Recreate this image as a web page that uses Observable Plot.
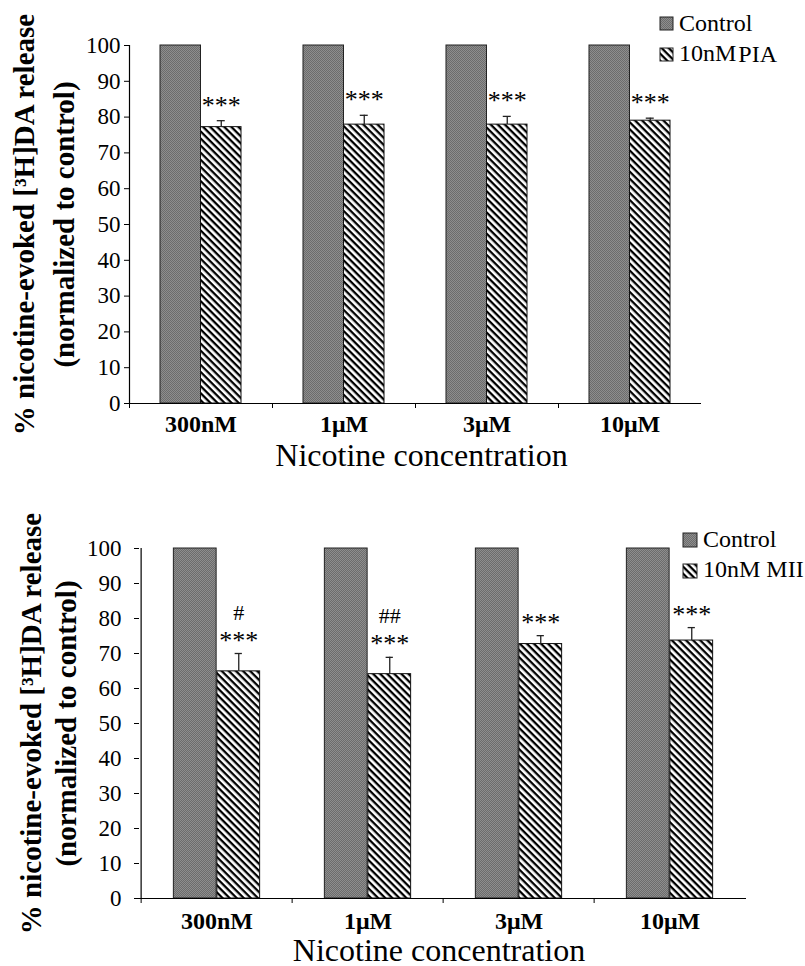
<!DOCTYPE html>
<html>
<head>
<meta charset="utf-8">
<script src="https://cdn.jsdelivr.net/npm/d3@7"></script>
<script src="https://cdn.jsdelivr.net/npm/@observablehq/plot@0.6"></script>
<style>
  html, body { margin: 0; padding: 0; background: #fff; }
  #chart { width: 805px; }
  #chart svg { display: block; }
</style>
</head>
<body>
<svg width="0" height="0" style="position:absolute">
  <defs>
    <pattern id="hatchFill" patternUnits="userSpaceOnUse" width="5" height="5" patternTransform="rotate(45)">
      <rect width="5" height="5" fill="#ffffff"></rect>
      <rect width="5" height="2.3" fill="#000000"></rect>
    </pattern>
    <pattern id="grayFill" patternUnits="userSpaceOnUse" width="2" height="2">
      <rect width="2" height="2" fill="#8e8e8e"></rect>
      <rect width="1" height="1" fill="#6c6c6c"></rect>
      <rect x="1" y="1" width="1" height="1" fill="#6c6c6c"></rect>
    </pattern>
  </defs>
</svg>
<div id="chart"></div>
<script>
// ---------- data ----------
const concentrations = ["300nM", "1μM", "3μM", "10μM"];
const yTicks = [0, 10, 20, 30, 40, 50, 60, 70, 80, 90, 100];

const controlPIA = [100, 100, 100, 100];
const valuesPIA = [77.2, 77.9, 77.9, 79.0];
const errorsPIA = [1.8, 2.6, 2.3, 0.7];
const starsPIA = ["***", "***", "***", "***"];
const hashPIA = ["", "", "", ""];

const controlMII = [100, 100, 100, 100];
const valuesMII = [64.9, 64.1, 72.7, 73.7];
const errorsMII = [5.1, 4.8, 2.4, 3.7];
const starsMII = ["***", "***", "***", "***"];
const hashMII = ["#", "##", "", ""];

const yTitle1 = "% nicotine-evoked [³H]DA release";
const yTitle2 = "(normalized to control)";
const xTitle = "Nicotine concentration";
const legendControl = "Control";

const serif = "'Liberation Serif','Times New Roman',Times,serif";

function drawPanel(cfg) {
  const W = 805, H = 483;
  const step = (W - cfg.marginLeft - cfg.marginRight) / concentrations.length;
  const bw = step / (2 + 2 * cfg.pad);
  const outer = cfg.pad * bw;
  const rows = concentrations.map((c, i) => ({
    conc: c,
    control: cfg.control[i],
    value: cfg.values[i],
    hi: cfg.values[i] + cfg.errors[i],
    sig: cfg.stars[i],
    hash: cfg.hash[i]
  }));

  const svg = Plot.plot({
    width: W,
    height: H,
    marginTop: cfg.marginTop,
    marginBottom: cfg.marginBottom,
    marginLeft: cfg.marginLeft,
    marginRight: cfg.marginRight,
    x: {type: "band", domain: concentrations, padding: 0, label: null},
    y: {domain: [0, 100], label: null},
    style: {fontFamily: serif, color: "#000", background: "#fff", overflow: "visible"},
    marks: [
      Plot.barY(rows, {x: "conc", y: "control", fill: "url(#grayFill)", stroke: "#222", strokeWidth: 1,
        insetLeft: outer, insetRight: step - outer - bw}),
      Plot.barY(rows, {x: "conc", y: "value", fill: "url(#hatchFill)", stroke: "#111", strokeWidth: 1,
        insetLeft: outer + bw, insetRight: outer}),
      Plot.ruleX(rows, {x: "conc", y1: "value", y2: "hi", dx: bw / 2, stroke: "#222", strokeWidth: 1.3}),
      Plot.tickY(rows, {x: "conc", y: "hi", insetLeft: step / 2 + bw / 2 - 4, insetRight: step / 2 - bw / 2 - 4,
        stroke: "#222", strokeWidth: 1.3}),
      Plot.text(rows, {x: "conc", y: "hi", text: "sig", dx: bw / 2, dy: cfg.starDy, lineAnchor: "bottom",
        fontSize: 26, fill: "#000"}),
      Plot.text(rows, {x: "conc", y: "hi", text: "hash", dx: bw / 2, dy: cfg.hashDy, lineAnchor: "bottom",
        fontSize: 22, fill: "#000"}),
      Plot.axisY({ticks: yTicks, tickSize: 5, tickPadding: cfg.yTickPadding, fontSize: 23, label: null}),
      Plot.ruleX([concentrations[0]], {y1: 0, y2: 100, dx: -step / 2, stroke: "#000", strokeWidth: 1.2}),
      Plot.ruleY([0], {stroke: "#000", strokeWidth: 1.2}),
      Plot.axisX({tickSize: 0, tickPadding: cfg.xTickPadding, fontSize: 24, fontWeight: "bold", label: null}),
      Plot.axisX({tickSize: 5, tickFormat: () => "", dx: -step / 2, label: null}),
      Plot.text([yTitle1], {text: d => d, frameAnchor: "left", textAnchor: "middle", rotate: -90,
        dx: cfg.title1X - cfg.marginLeft, fontSize: 29, fontWeight: "bold", lineAnchor: "middle"}),
      Plot.text([yTitle2], {text: d => d, frameAnchor: "left", textAnchor: "middle", rotate: -90,
        dx: cfg.title2X - cfg.marginLeft, fontSize: 29, fontWeight: "bold", lineAnchor: "middle"}),
      Plot.text([xTitle], {text: d => d, frameAnchor: "bottom", textAnchor: "middle", dy: cfg.xTitleDy,
        dx: cfg.xTitleDx, lineAnchor: "bottom", fontSize: 32})
    ]
  });

  // legend
  const L = cfg.legend;
  const g = d3.select(svg).append("g").attr("font-family", serif).attr("font-size", 24)
    .attr("fill", "#000").attr("text-anchor", "start");
  g.append("rect").attr("x", L.x).attr("y", L.y1).attr("width", L.size).attr("height", L.size)
    .attr("fill", "url(#grayFill)").attr("stroke", "#222");
  g.append("rect").attr("x", L.x).attr("y", L.y2).attr("width", L.size).attr("height", L.size)
    .attr("fill", "url(#hatchFill)").attr("stroke", "#222");
  g.append("text").attr("x", L.tx).attr("y", L.b1).text(legendControl);
  const t2 = g.append("text").attr("x", L.tx).attr("y", L.b2);
  t2.append("tspan").text(cfg.treatPrefix);
  t2.append("tspan").attr("dx", L.gap).attr("dy", L.drop).text(cfg.treatSuffix);

  document.getElementById("chart").appendChild(svg);
}

drawPanel({
  control: controlPIA, values: valuesPIA, errors: errorsPIA, stars: starsPIA, hash: hashPIA,
  marginTop: 45, marginBottom: 80, marginLeft: 129, marginRight: 104, pad: 0.765,
  yTickPadding: 4, xTickPadding: 11, starDy: -7, hashDy: -30,
  title1X: 24, title2X: 64, xTitleDy: 62, xTitleDx: 6,
  treatPrefix: "10nM", treatSuffix: "PIA",
  legend: {x: 660, size: 13, y1: 17, y2: 48, tx: 679, b1: 31, b2: 61, gap: 2, drop: 1}
});

drawPanel({
  control: controlMII, values: valuesMII, errors: errorsMII, stars: starsMII, hash: hashMII,
  marginTop: 65, marginBottom: 68, marginLeft: 139, marginRight: 59, pad: 0.744,
  yTickPadding: 13, xTickPadding: 13, starDy: -5, hashDy: -34,
  title1X: 31, title2X: 66, xTitleDy: 62, xTitleDx: -4,
  treatPrefix: "10nM", treatSuffix: "MII",
  legend: {x: 683, size: 14, y1: 50, y2: 81, tx: 703, b1: 64, b2: 94, gap: 6, drop: 0}
});
</script>
</body>
</html>
